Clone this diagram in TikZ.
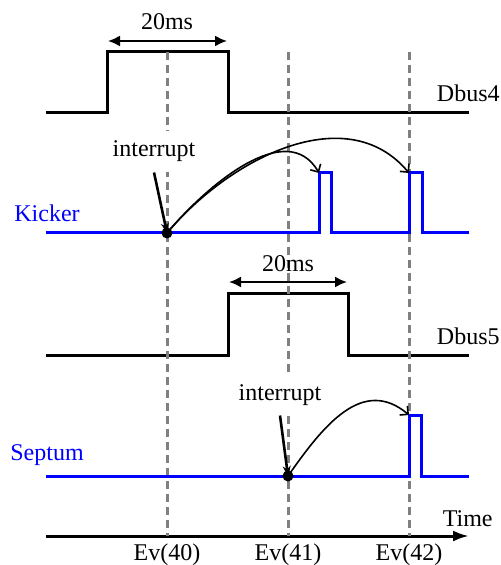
\documentclass[tikz,border=0pt]{standalone}
\usepackage{fontspec}
\setmainfont{Liberation Serif}
\usetikzlibrary{arrows.meta}

\begin{document}
\begin{tikzpicture}[
  x=0.5pt, y=-0.5pt,
  lbl/.style={font=\fontsize{12}{14}\selectfont, inner sep=0pt},
  sig/.style={line width=1.5pt},
  ksig/.style={line width=1.5pt, blue},
  evline/.style={gray, line width=1.5pt, dash pattern=on 4pt off 2.5pt},
  dur/.style={{Latex[length=6pt,width=5.5pt]}-{Latex[length=6pt,width=5.5pt]}, line width=1pt},
  irq/.style={-{Stealth[length=5pt,width=4pt]}, line width=1.3pt},
  hop/.style={-{Straight Barb[length=3pt,width=6pt]}, line width=0.8pt},
  dot/.style={circle, fill, inner sep=0pt, minimum size=5.5pt}
]
  \useasboundingbox (0,0) rectangle (501,565);

  % bus signals
  \draw[sig] (46,113) -- (107,113) -- (107,52) -- (228,52) -- (228,113) -- (469,113);
  \draw[sig] (46,355) -- (228,355) -- (228,294) -- (348,294) -- (348,355) -- (469,355);
  \draw[-{Latex[length=8pt,width=5.5pt]}, line width=1.5pt] (46,536) -- (469,536);

  \foreach \x/\n in {167/40, 288/41, 409/42} {
    \draw[evline] (\x,52) -- (\x,536);
    \node[lbl, anchor=base] (ev\n) at (\x,560) {Ev(\n)};
  }

  \draw[ksig] (46,233) -- (319,233) -- (319,173) -- (331,173) -- (331,233)
    -- (409,233) -- (409,173) -- (422,173) -- (422,233) -- (469,233);
  \draw[ksig] (46,476) -- (409,476) -- (409,415) -- (421,415) -- (421,476) -- (469,476);

  \coordinate (k1) at (319,173);
  \coordinate (k2) at (409,173);
  \coordinate (s1) at (409,415);

  \node[lbl, anchor=base] (w4) at (167,30) {20ms};
  \draw[dur] (108,41) -- (227,41);
  \node[lbl, anchor=base] (w5) at (288,272) {20ms};
  \draw[dur] (229,282) -- (347,282);

  \node[lbl, anchor=base east] (dbus4) at (500,102) {Dbus4};
  \node[lbl, anchor=base east] (dbus5) at (500,344) {Dbus5};
  \node[lbl, anchor=base east] (time) at (493,526) {Time};
  \node[lbl, anchor=base west, blue] (kicker) at (14,222) {Kicker};
  \node[lbl, anchor=base west, blue] (septum) at (10,460) {Septum};

  \node[lbl, anchor=base, fill=white, inner xsep=1pt, inner ysep=5pt] (int1) at (154,157) {interrupt};
  \node[lbl, anchor=base, fill=white, inner xsep=1pt, inner ysep=5pt] (int2) at (280,400) {interrupt};

  \node[dot] (irq1) at (167,233) {};
  \node[dot] (irq2) at (288,476) {};

  \draw[irq] (int1.south) -- (irq1.center);
  \draw[irq] (int2.south) -- (irq2.center);

  \draw[hop] (irq1.center) to[out=50, in=120] (k1);
  \draw[hop] (irq1.center) to[out=50, in=130] (k2);
  \draw[hop] (irq2.center) to[out=55, in=140, looseness=1.15] (s1);
\end{tikzpicture}
\end{document}
